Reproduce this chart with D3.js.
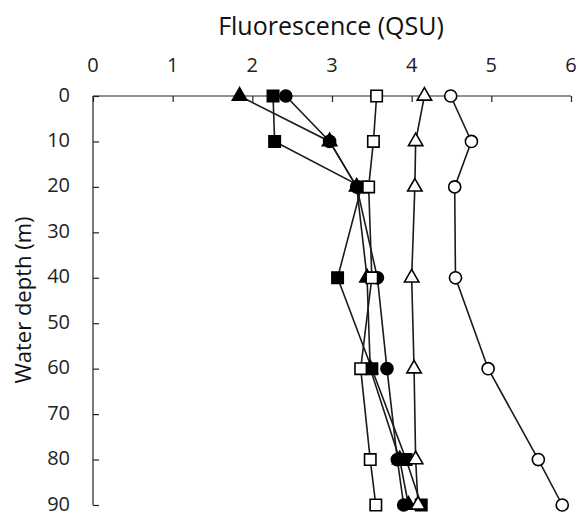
<!DOCTYPE html>
<html>
<head>
<meta charset="utf-8">
<script src="https://cdn.jsdelivr.net/npm/d3@7"></script>
<style>
    body { margin: 0; background: #fff; }
    svg { display: block; font-family: "Open Sans", sans-serif; }
</style>
</head>
<body>
<svg width="578" height="515"></svg>
<script>
// Fluorescence profiles vs water depth

const depths = [0, 10, 20, 40, 60, 80, 90];
const xTicks = [0, 1, 2, 3, 4, 5, 6];
const yTicks = [0, 10, 20, 30, 40, 50, 60, 70, 80, 90];

const filledTriangle = [1.84, 2.97, 3.31, 3.44, 3.48, 3.85, 3.96];
const filledCircle = [2.42, 2.97, 3.31, 3.57, 3.69, 3.82, 3.90];
const filledSquare = [2.26, 2.28, 3.37, 3.07, 3.50, 3.93, 4.12];
const openSquare = [3.56, 3.52, 3.46, 3.50, 3.36, 3.48, 3.55];
const openTriangle = [4.16, 4.05, 4.04, 4.00, 4.03, 4.05, 4.08];
const openCircle = [4.49, 4.75, 4.54, 4.55, 4.96, 5.59, 5.89];

const series = [
    {values: filledTriangle, shape: d3.symbolTriangle, fill: "#000"},
    {values: filledCircle, shape: d3.symbolCircle, fill: "#000"},
    {values: filledSquare, shape: d3.symbolSquare, fill: "#000"},
    {values: openSquare, shape: d3.symbolSquare, fill: "#fff"},
    {values: openTriangle, shape: d3.symbolTriangle, fill: "#fff"},
    {values: openCircle, shape: d3.symbolCircle, fill: "#fff"}
];

const svg = d3.select("svg");
const plotLeft = 93, plotRight = 571, plotTop = 96, plotBottom = 505;

const x = d3.scaleLinear().domain([0, 6]).range([plotLeft, plotRight]);
const y = d3.scaleLinear().domain([0, 90]).range([plotTop, plotBottom]);

// Axes: x on top with ticks pointing down, y on left with ticks pointing right
const xAxis = svg.append("g")
    .attr("transform", `translate(0,${plotTop})`)
    .call(d3.axisBottom(x).tickValues(xTicks).tickSize(6).tickFormat(""));
const yAxis = svg.append("g")
    .attr("transform", `translate(${plotLeft},0)`)
    .call(d3.axisRight(y).tickValues(yTicks).tickSize(6).tickFormat(""));

xAxis.select(".domain").attr("d", `M${plotLeft},0H${plotRight}`);
yAxis.select(".domain").attr("d", `M0,${plotTop}V${plotBottom}`);
[xAxis, yAxis].forEach(g => {
    g.select(".domain").attr("stroke", "#222").attr("stroke-width", 1.2);
    g.selectAll(".tick line").attr("stroke", "#222").attr("stroke-width", 1.2);
});

svg.append("g").selectAll("text")
    .data(xTicks)
    .join("text")
    .attr("x", d => x(d))
    .attr("y", 72)
    .attr("text-anchor", "middle")
    .attr("font-size", 20)
    .attr("fill", "#222")
    .text(d => d);

svg.append("g").selectAll("text")
    .data(yTicks)
    .join("text")
    .attr("x", 70)
    .attr("y", d => y(d))
    .attr("dy", "0.28em")
    .attr("text-anchor", "end")
    .attr("font-size", 20)
    .attr("fill", "#222")
    .text(d => d);

svg.append("text")
    .attr("x", 331)
    .attr("y", 35)
    .attr("text-anchor", "middle")
    .attr("font-size", 25)
    .attr("fill", "#111")
    .text("Fluorescence (QSU)");

svg.append("text")
    .attr("transform", "translate(31,300) rotate(-90)")
    .attr("text-anchor", "middle")
    .attr("font-size", 22)
    .attr("fill", "#111")
    .text("Water depth (m)");

// Lines first, then markers on top
const line = d3.line()
    .x(d => x(d.v))
    .y(d => y(d.depth));

const rows = s => s.values.map((v, i) => ({v, depth: depths[i]}));

svg.append("g").selectAll("path")
    .data(series)
    .join("path")
    .attr("fill", "none")
    .attr("stroke", "#1a1a1a")
    .attr("stroke-width", 1.6)
    .attr("d", s => line(rows(s)));

const sizeFor = shape => shape === d3.symbolSquare ? 130 : shape === d3.symbolCircle ? 115 : 90;

series.forEach(s => {
    svg.append("g").selectAll("path")
        .data(rows(s))
        .join("path")
        .attr("transform", d => `translate(${x(d.v)},${y(d.depth)})`)
        .attr("d", d3.symbol().type(s.shape).size(sizeFor(s.shape)))
        .attr("fill", s.fill)
        .attr("stroke", "#000")
        .attr("stroke-width", 1.6);
});
</script>
</body>
</html>
